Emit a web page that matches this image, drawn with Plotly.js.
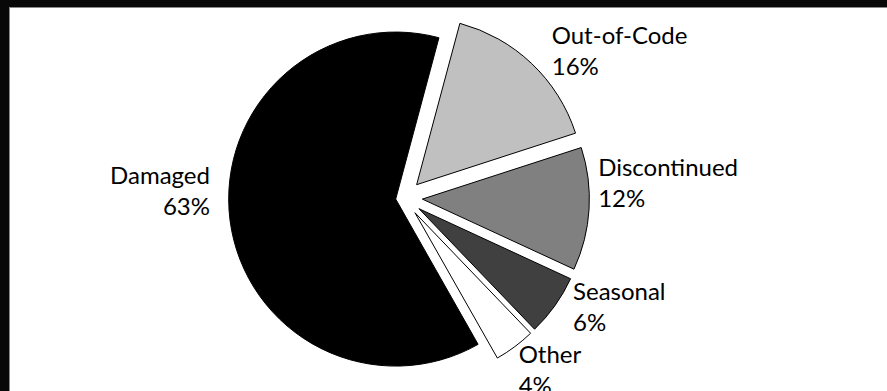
<!DOCTYPE html>
<html>
<head>
<meta charset="utf-8">
<script src="https://cdn.plot.ly/plotly-3.0.1.min.js"></script>
<style>
  html, body { margin: 0; padding: 0; background: #ffffff; width: 887px; height: 391px; overflow: hidden; }
  #topbar { position: absolute; left: 0; top: 0; width: 887px; height: 7px; background: #080808; }
  #leftbar { position: absolute; left: 0; top: 0; width: 9px; height: 391px; background: #080808; }
  #topline { position: absolute; left: 9px; top: 7px; width: 878px; height: 1px; background: #8a8a8a; }
  #leftline { position: absolute; left: 9px; top: 7px; width: 1px; height: 384px; background: #8a8a8a; }
  #chart { position: absolute; left: 10px; top: 8px; width: 877px; height: 383px; }
  .textline { display: none; }
</style>
</head>
<body>
<div id="topbar"></div><div id="leftbar"></div><div id="topline"></div><div id="leftline"></div>
<div id="chart"></div>
<script>
const categories = ["Out-of-Code", "Discontinued", "Seasonal", "Other", "Damaged"];
const shares = [16, 12, 6, 4, 63];
const sliceColors = ["#c0c0c0", "#808080", "#404040", "#ffffff", "#000000"];
const pulls = [0.11, 0.11, 0.11, 0.11, 0.05];

// small pixel nudges for the outside labels (layout only)
const labelNudge = [[5, 2], [-6, -27], [3, -10], [-11, -7], [-5, -31]];

const labelFont = { family: "Lato, 'Open Sans', sans-serif", size: 24, color: "#000000" };

const trace = {
  type: "pie",
  labels: categories,
  values: shares,
  sort: false,
  direction: "clockwise",
  rotation: 15,
  pull: pulls,
  marker: { colors: sliceColors, line: { color: "#000000", width: 1 } },
  textposition: "outside",
  texttemplate: "%{label}<br>%{value}%",
  textfont: labelFont,
  outsidetextfont: labelFont,
  hoverinfo: "none",
  showlegend: false,
  domain: { x: [0.2212, 0.6773], y: [0.0198, 0.988] }
};

const layout = {
  width: 877,
  height: 383,
  margin: { l: 0, r: 0, t: 0, b: 0 },
  paper_bgcolor: "#ffffff",
  showlegend: false
};

const gd = document.getElementById("chart");
Plotly.newPlot(gd, [trace], layout, { displayModeBar: false, staticPlot: true }).then(function () {
  const cx = gd.calcdata[0][0].cx;
  const gdRect = gd.getBoundingClientRect();
  gd.querySelectorAll("text.slicetext").forEach(function (t, k) {
    let idx = k;
    const g = t.closest("g.slice");
    if (g && g.__data__ && typeof g.__data__.i === "number") idx = g.__data__.i;
    const w = t.getBBox().width;
    const r = t.getBoundingClientRect();
    const mid = (r.left + r.right) / 2 - gdRect.left;
    const rightSide = mid > cx;
    const anchor = rightSide ? "start" : "end";
    const x = rightSide ? -w / 2 : w / 2;
    t.setAttribute("text-anchor", anchor);
    t.style.textAnchor = anchor;
    t.setAttribute("x", x);
    t.querySelectorAll("tspan.line").forEach(function (s) { s.setAttribute("x", x); });
    const n = labelNudge[idx] || [0, 0];
    const tr = t.getAttribute("transform") || "";
    t.setAttribute("transform", "translate(" + n[0] + "," + n[1] + ") " + tr);
  });
});
</script>
</body>
</html>
